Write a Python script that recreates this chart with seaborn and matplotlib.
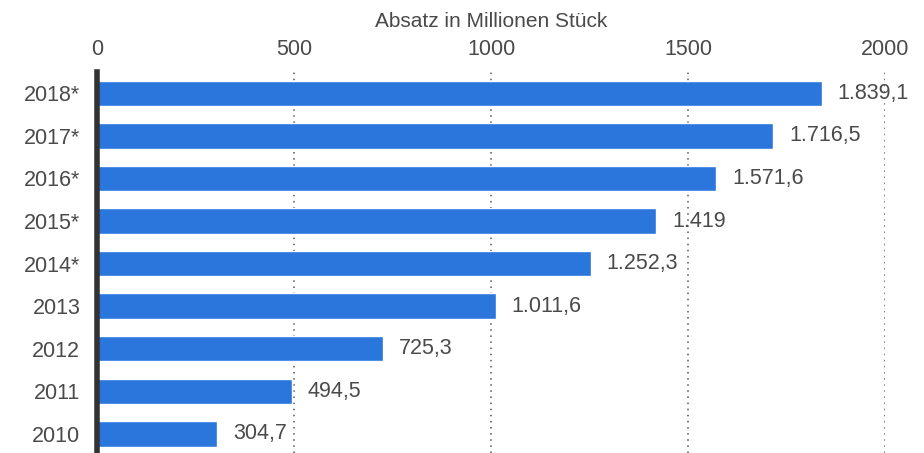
import matplotlib
matplotlib.use("Agg")
import matplotlib.pyplot as plt
import seaborn as sns
import pandas as pd

years = ["2018*", "2017*", "2016*", "2015*", "2014*", "2013", "2012", "2011", "2010"]
values = [1839.1, 1716.5, 1571.6, 1419.0, 1252.3, 1011.6, 725.3, 494.5, 304.7]
labels = ["1.839,1", "1.716,5", "1.571,6", "1.419", "1.252,3", "1.011,6", "725,3", "494,5", "304,7"]
xticks = [0, 500, 1000, 1500, 2000]

sns.set_theme(style="white")
plt.rcParams["font.family"] = ["Liberation Sans", "DejaVu Sans"]

df = pd.DataFrame({"year": years, "value": values})

fig = plt.figure(figsize=(9.24, 4.53), dpi=100)
ax = fig.add_axes([0.105, 0.0, 0.853, 0.841])

sns.barplot(data=df, x="value", y="year", orient="h", color="#2a76dd",
            saturation=1, width=0.6, ax=ax, zorder=2)

ax.set_xlim(0, 2000)
ax.set_ylim(8.45, -0.5)
ax.xaxis.tick_top()
ax.xaxis.set_label_position("top")
ax.set_xticks(xticks)
ax.set_xticklabels([str(t) for t in xticks])
ax.set_xlabel("Absatz in Millionen Stück", fontsize=15, color="#4a4a4a", labelpad=8)
ax.set_ylabel("")
ax.tick_params(axis="x", length=0, labelsize=15.5, labelcolor="#4a4a4a", pad=9)
ax.tick_params(axis="y", length=0, labelsize=15.5, labelcolor="#4a4a4a", pad=12)

for x in xticks[1:]:
    ax.axvline(x, color="#555555", linestyle=(0, (1, 3)), linewidth=1.1, zorder=1)

for sp in ["top", "right", "bottom"]:
    ax.spines[sp].set_visible(False)
ax.spines["left"].set_linewidth(4)
ax.spines["left"].set_color("#333333")
ax.spines["left"].set_zorder(5)

for i, (v, lab) in enumerate(zip(values, labels)):
    ax.text(v + 40, i, lab, va="center", ha="left", fontsize=15.5, color="#4a4a4a", zorder=6)

fig.savefig("out.png", dpi=100)
